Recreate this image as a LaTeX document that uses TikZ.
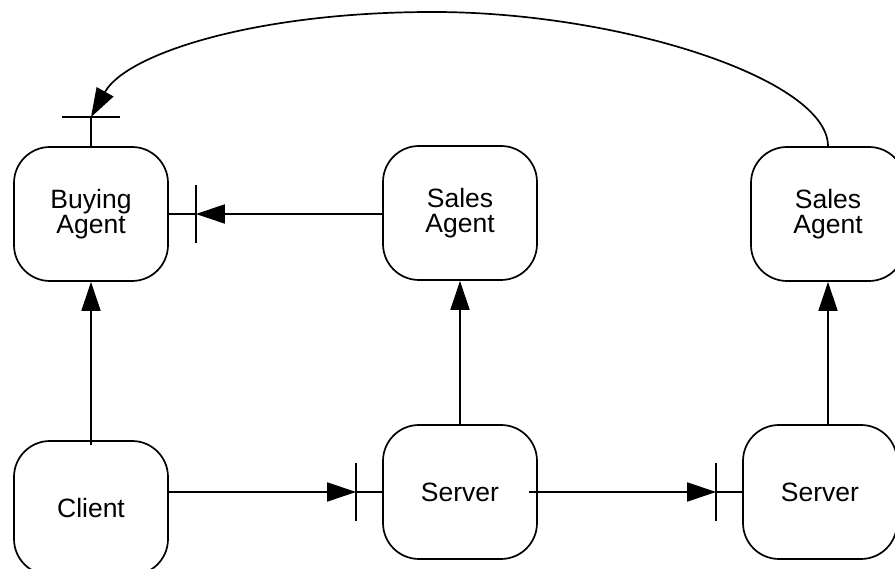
\documentclass[tikz,border=0pt]{standalone}
\usepackage{fontspec}
\setmainfont{Liberation Sans}
\usetikzlibrary{arrows.meta,positioning}
\tikzset{
	>={Triangle[length=29pt,width=19pt]},
	agent/.style={
		rectangle,
		rounded corners=36pt,
		draw, line width=1.7pt,
		minimum width=154pt,
		minimum height=134pt,
		align=center,
		font=\fontsize{26.5}{25}\selectfont},
	line/.style={draw, line width=1.7pt},
	link/.style={line, ->},
}
\newcommand*\gatebar[2]{\draw[line] ([#2=-29pt]#1) -- ([#2=29pt]#1);}

\begin{document}
\begin{tikzpicture}[x=1pt,y=1pt]
\useasboundingbox (0,0) rectangle (895,569);
\node[agent] (buy) at (91,355) {Buying\\Agent};
\node[agent] (sal1) at (460,356) {Sales\\Agent};
\node[agent] (sal2) at (828,355) {Sales\\Agent};
\node[agent] (cli) at (91,61) {Client};
\node[agent] (srv1) at (460,77) {Server};
\node[agent] (srv2) at (820,77) {Server};
% gate points
\coordinate[right=27pt of buy.east] (g1);
\coordinate[left=26pt of srv1.west] (g2);
\coordinate[left=26pt of srv2.west] (g3);
\coordinate[above=29pt of buy.north] (g4);
\coordinate (top) at (433,557);
% connectors
\draw[link] (sal1.west |- g1) -- (g1);
\draw[line] (g1) -- (buy.east);
\gatebar{g1}{yshift}
\draw[link] ([yshift=-5pt]cli.north) -- (buy.south);
\draw[link] (cli.east |- g2) -- (g2);
\draw[line] (g2) -- (srv1.west);
\gatebar{g2}{yshift}
\draw[link] ([xshift=-9pt]srv1.east) -- (g3);
\draw[line] (g3) -- (srv2.west);
\gatebar{g3}{yshift}
\draw[link] (srv1.north) -- (sal1.south);
\draw[link] (sal2.south |- srv2.north) -- (sal2.south);
\draw[link] (sal2.north) .. controls +(0,67) and +(187,0) .. (top)
	.. controls +(-179,0) and +(35,63) .. (g4);
\draw[line] (g4) -- (buy.north);
\gatebar{g4}{xshift}
\end{tikzpicture}
\end{document}
